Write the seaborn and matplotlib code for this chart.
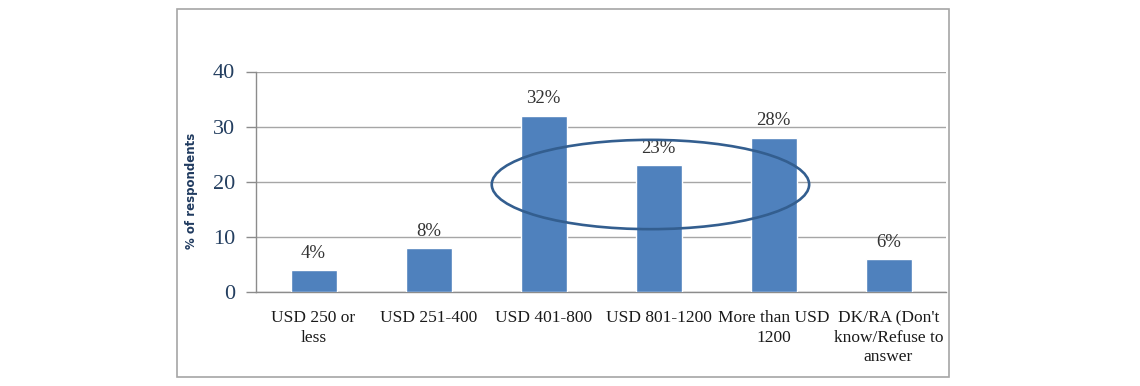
import matplotlib
matplotlib.use("Agg")
import matplotlib.pyplot as plt
from matplotlib.patches import Ellipse, Rectangle
import seaborn as sns
import pandas as pd

categories = ["USD 250 or\nless", "USD 251-400", "USD 401-800", "USD 801-1200",
              "More than USD\n1200", "DK/RA (Don't\nknow/Refuse to\nanswer"]
values = [4, 8, 32, 23, 28, 6]
y_ticks = [0, 10, 20, 30, 40]
y_label = "% of respondents"

df = pd.DataFrame({"cat": categories, "val": values})

sns.set_theme(style="white")
plt.rcParams["font.family"] = ["Liberation Serif", "DejaVu Serif"]

fig = plt.figure(figsize=(11.4, 3.86), dpi=100)
ax = fig.add_axes([256 / 1140, 1 - 292 / 386, 690 / 1140, (292 - 71.5) / 386])

sns.barplot(data=df, x="cat", y="val", color="#4F81BD", width=0.4,
            saturation=1, ax=ax, zorder=3)

ax.set_xlim(-0.5, len(categories) - 0.5)
ax.set_ylim(0, 40)
ax.set_yticks(y_ticks)
ax.set_yticklabels([str(t) for t in y_ticks], fontsize=16, color="#243F60")
ax.yaxis.grid(True, color="#A6A6A6", linewidth=1.0, zorder=0)
ax.set_axisbelow(True)

ax.set_xticks(range(len(categories)))
ax.set_xticklabels(categories, fontsize=12.5, color="#1a1a1a", linespacing=1.3)
ax.set_xticks([i - 0.5 for i in range(len(categories) + 1)], minor=True)
ax.tick_params(axis="x", which="major", length=0, pad=13)
ax.tick_params(axis="x", which="minor", length=5, color="#8c8c8c", width=1, direction="out")
ax.tick_params(axis="y", which="major", length=7, color="#8c8c8c", width=1,
               direction="out", pad=8, left=True)

ax.set_xlabel("")
ax.set_ylabel("")
for side in ["top", "right"]:
    ax.spines[side].set_visible(False)
for side in ["left", "bottom"]:
    ax.spines[side].set_color("#8c8c8c")
    ax.spines[side].set_linewidth(1.0)

for cont in ax.containers:
    ax.bar_label(cont, labels=[f"{v:.0f}%" for v in values], padding=6,
                 fontsize=13.5, color="#333333")

# highlight ellipse around the middle categories
ell = Ellipse((2.93, 19.5), width=2.76, height=16.2, fill=False,
              edgecolor="#335E8F", linewidth=1.9, zorder=5)
ax.add_patch(ell)

fig.text(192 / 1140, 1 - 190.5 / 386, y_label, rotation=90, ha="center", va="center",
         fontsize=8.5, fontweight="bold", color="#1F3A5F", family="DejaVu Sans")

# outer chart border
fig.patches.append(Rectangle((177 / 1140, 1 - 377 / 386), (949 - 177) / 1140, (377 - 9) / 386,
                             transform=fig.transFigure, fill=False,
                             edgecolor="#A6A6A6", linewidth=1.2))

fig.savefig("out.png", dpi=100)
